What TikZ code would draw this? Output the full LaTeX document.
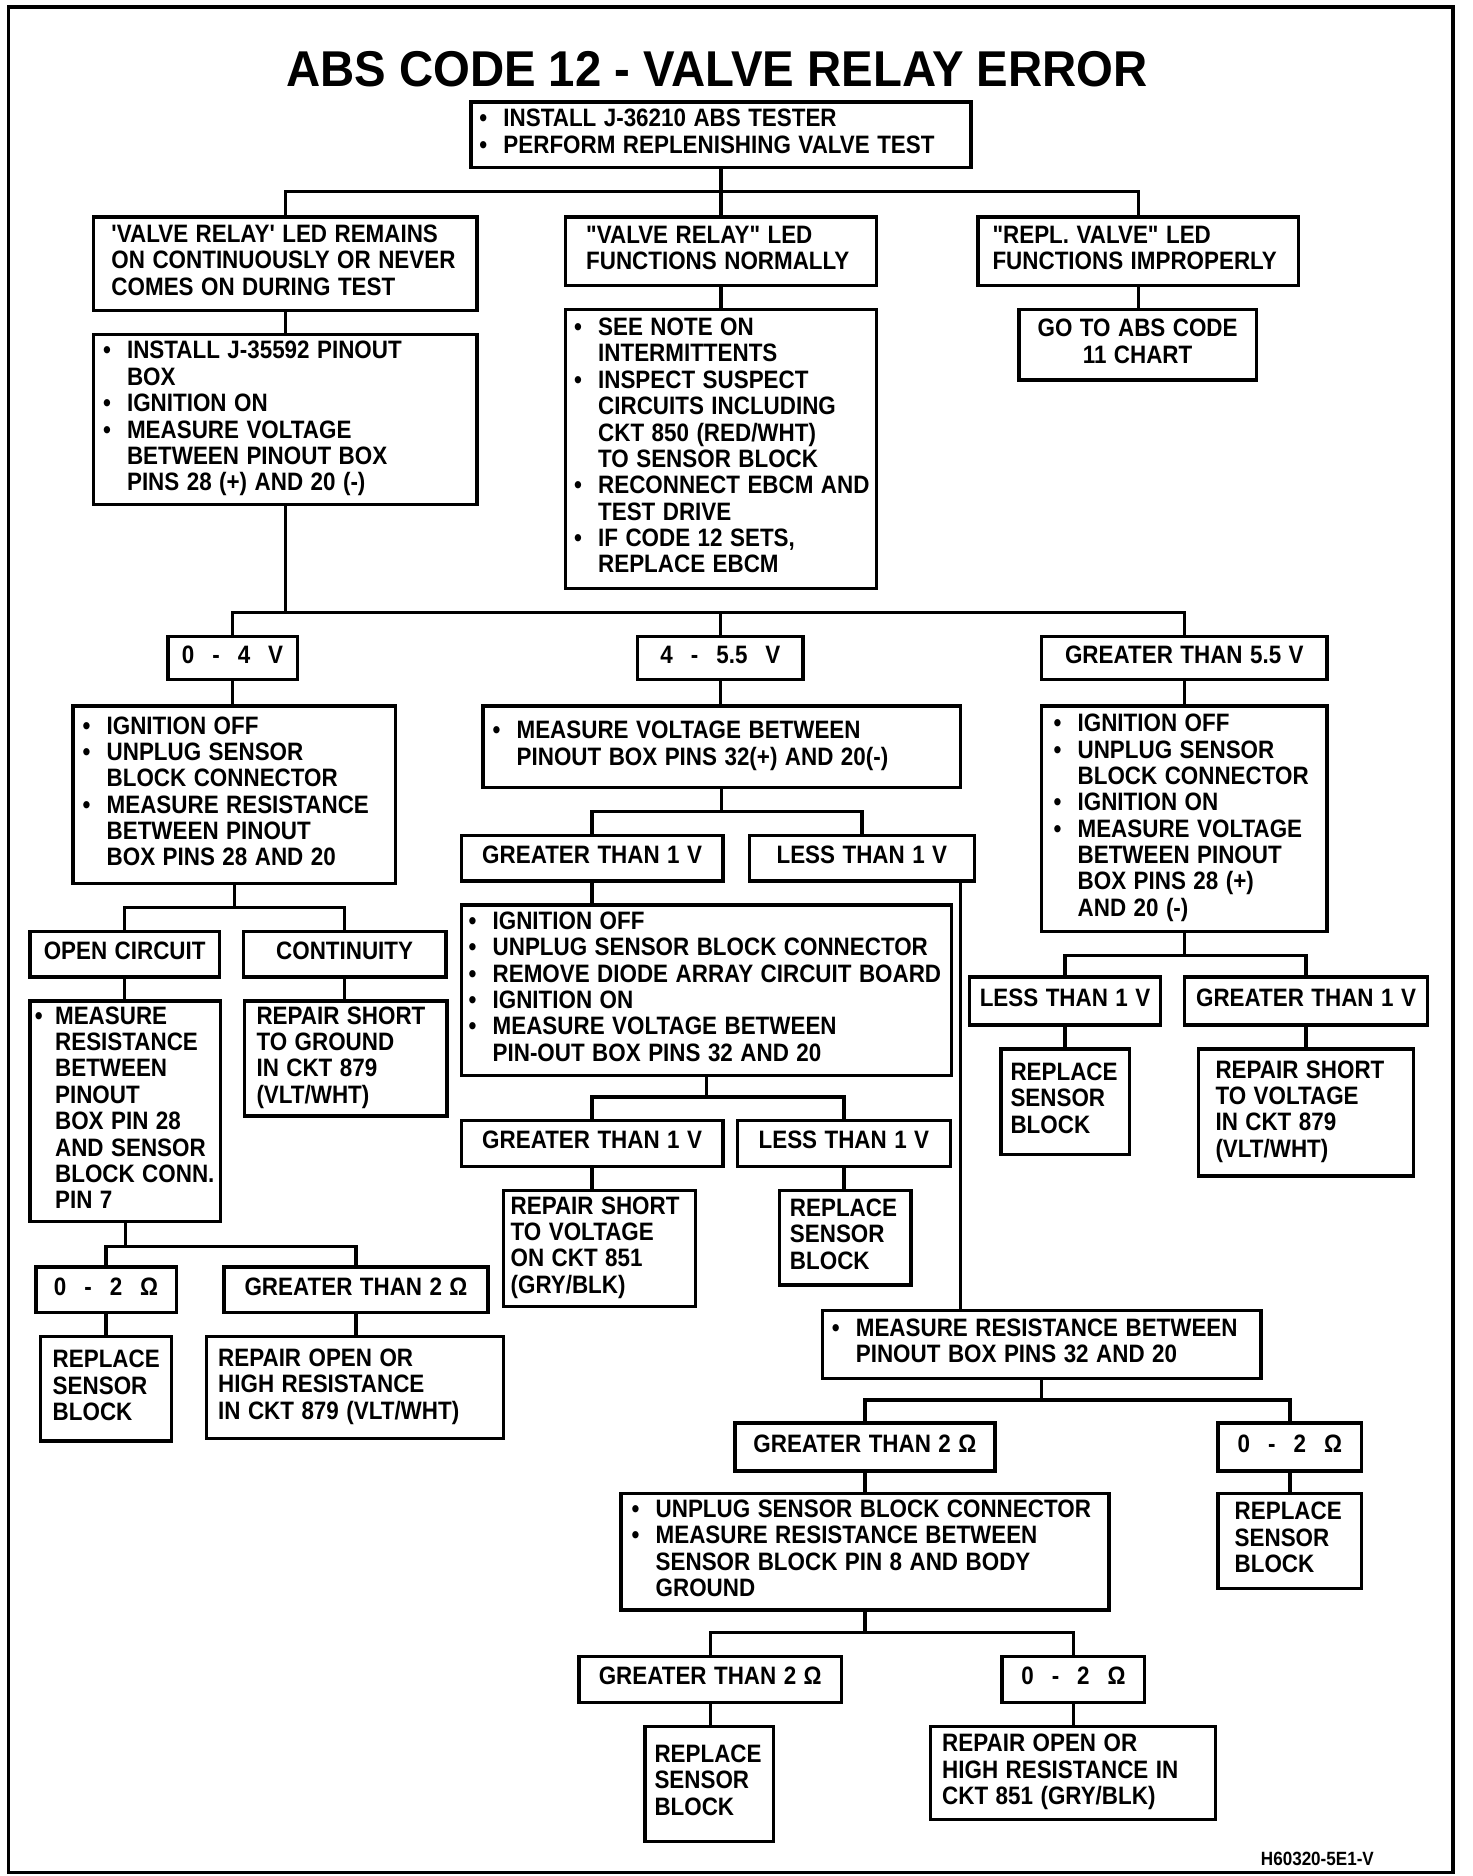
\documentclass[tikz,border=0pt]{standalone}
\usepackage{fontspec}
\newfontfamily\bodyfont[FakeStretch=0.89,WordSpace=1.2]{Liberation Sans}
\newfontfamily\titlefont[FakeStretch=0.94]{Liberation Sans}
\usetikzlibrary{calc}
\newcommand\bul[1][20pt]{\makebox[#1][l]{\textbullet}}
\newcommand\ind[1][20pt]{\hspace*{#1}}
\newcommand\gp{\hspace{15pt}}
\newcommand\bx[8][l]{%
  \pgfmathsetmacro\bxw{#5-#3}%
  \pgfmathsetmacro\bxh{#6-#4}%
  \pgfmathsetmacro\bxt{#5-#3-2*#7}%
  \node[flowbox,minimum width=\bxw pt,minimum height=\bxh pt,inner xsep=#7pt] (#2) at (#3,#4)
    {\makebox[\bxt pt][#1]{\begin{tabular}{@{}#1@{}}#8\end{tabular}}};}
\newcommand\cn[3]{\draw[conn] (#1.south) |- ([yshift=#3pt]#2.north) -- (#2.north);}
\newcommand\cs[2]{\draw[conn] (#1.south) -- (#1.south |- #2.north);}
\begin{document}
\begin{tikzpicture}[x=1pt,y=-1pt,
  flowbox/.style={draw,line width=2.8pt,anchor=north west,outer sep=0pt,inner ysep=0pt,
    font=\bodyfont\bfseries\fontsize{21}{22}\selectfont},
  conn/.style={line width=2.8pt}]
\useasboundingbox (0,0) rectangle (1228,1565);
\fill[white] (0,0) rectangle (1228,1565);
\draw[line width=3pt] (7,6) rectangle (1212,1562);
\node[font=\titlefont\bfseries\fontsize{42}{42}\selectfont] (title) at (598,58) {ABS CODE 12 - VALVE RELAY ERROR};
\node[font=\bodyfont\bfseries\fontsize{16}{16}\selectfont] (code) at (1099,1551) {H60320-5E1-V};
% row 1
\bx{T0}{393}{85}{810}{140}{7}{\bul INSTALL J-36210 ABS TESTER\\\bul PERFORM REPLENISHING VALVE TEST}
\bx{A1}{78}{181}{398}{259}{15}{'VALVE RELAY' LED REMAINS\\ON CONTINUOUSLY OR NEVER\\COMES ON DURING TEST}
\bx{B1}{472}{181}{731}{238}{17}{"VALVE RELAY" LED\\FUNCTIONS NORMALLY}
\bx{C1}{816}{181}{1083}{238}{12}{"REPL. VALVE" LED\\FUNCTIONS IMPROPERLY}
\bx{A2}{78}{279}{398}{421}{8}{\bul INSTALL J-35592 PINOUT\\\ind BOX\\\bul IGNITION ON\\\bul MEASURE VOLTAGE\\\ind BETWEEN PINOUT BOX\\\ind PINS 28 (+) AND 20 (-)}
\bx{B2}{472}{258}{731}{491}{7}{\bul SEE NOTE ON\\\ind INTERMITTENTS\\\bul INSPECT SUSPECT\\\ind CIRCUITS INCLUDING\\\ind CKT 850 (RED/WHT)\\\ind TO SENSOR BLOCK\\\bul RECONNECT EBCM AND\\\ind TEST DRIVE\\\bul IF CODE 12 SETS,\\\ind REPLACE EBCM}
\bx[c]{C2}{850}{258}{1048}{317}{4}{GO TO ABS CODE\\11 CHART}
% voltage
\bx[c]{D1}{140}{531}{248}{567}{2}{0\gp-\gp4\gp V}
\bx[c]{E1}{532}{531}{670}{567}{2}{4\gp-\gp5.5\gp V}
\bx[c]{F1}{869}{531}{1107}{567}{2}{GREATER THAN 5.5 V}
\bx{D2}{61}{589}{330}{737}{8}{\bul IGNITION OFF\\\bul UNPLUG SENSOR\\\ind BLOCK CONNECTOR\\\bul MEASURE RESISTANCE\\\ind BETWEEN PINOUT\\\ind BOX PINS 28 AND 20}
\bx{E2}{403}{589}{801}{657}{8}{\bul MEASURE VOLTAGE BETWEEN\\\ind PINOUT BOX PINS 32(+) AND 20(-)}
\bx{F2}{869}{589}{1107}{777}{10}{\bul IGNITION OFF\\\bul UNPLUG SENSOR\\\ind BLOCK CONNECTOR\\\bul IGNITION ON\\\bul MEASURE VOLTAGE\\\ind BETWEEN PINOUT\\\ind BOX PINS 28 (+)\\\ind AND 20 (-)}
% left branch
\bx[c]{D3}{25}{777}{183}{815}{2}{OPEN CIRCUIT}
\bx[c]{D4}{203}{777}{372}{815}{2}{CONTINUITY}
\bx{D5}{25}{835}{184}{1019}{4}{\bul[17pt]MEASURE\\\ind[17pt]RESISTANCE\\\ind[17pt]BETWEEN\\\ind[17pt]PINOUT\\\ind[17pt]BOX PIN 28\\\ind[17pt]AND SENSOR\\\ind[17pt]BLOCK CONN.\\\ind[17pt]PIN 7}
\bx{D6}{204}{835}{373}{931}{10}{REPAIR SHORT\\TO GROUND\\IN CKT 879\\(VLT/WHT)}
\bx[c]{D7}{30}{1057}{147}{1095}{2}{0\gp-\gp2\gp Ω}
\bx[c]{D8}{187}{1057}{407}{1095}{2}{GREATER THAN 2 Ω}
\bx{D9}{34}{1115}{143}{1202}{10}{REPLACE\\SENSOR\\BLOCK}
\bx{D10}{172}{1115}{420}{1200}{10}{REPAIR OPEN OR\\HIGH RESISTANCE\\IN CKT 879 (VLT/WHT)}
% middle branch
\bx[c]{E3}{385}{697}{603}{735}{2}{GREATER THAN 1 V}
\bx[c]{E4}{625}{697}{813}{735}{2}{LESS THAN 1 V}
\bx{E5}{385}{755}{794}{897}{6}{\bul IGNITION OFF\\\bul UNPLUG SENSOR BLOCK CONNECTOR\\\bul REMOVE DIODE ARRAY CIRCUIT BOARD\\\bul IGNITION ON\\\bul MEASURE VOLTAGE BETWEEN\\\ind PIN-OUT BOX PINS 32 AND 20}
\bx[c]{E6}{385}{935}{603}{973}{2}{GREATER THAN 1 V}
\bx[c]{E7}{615}{935}{793}{973}{2}{LESS THAN 1 V}
\bx{E9}{420}{993}{580}{1090}{6}{REPAIR SHORT\\TO VOLTAGE\\ON CKT 851\\(GRY/BLK)}
\bx{E10}{650}{993}{760}{1072}{9}{REPLACE\\SENSOR\\BLOCK}
\bx{E8}{686}{1093}{1052}{1150}{8}{\bul MEASURE RESISTANCE BETWEEN\\\ind PINOUT BOX PINS 32 AND 20}
\bx[c]{G1}{613}{1187}{830}{1227}{2}{GREATER THAN 2 Ω}
\bx[c]{G2}{1016}{1187}{1136}{1227}{2}{0\gp-\gp2\gp Ω}
\bx{G3}{518}{1246}{925}{1343}{9}{\bul UNPLUG SENSOR BLOCK CONNECTOR\\\bul MEASURE RESISTANCE BETWEEN\\\ind SENSOR BLOCK PIN 8 AND BODY\\\ind GROUND}
\bx{G4}{1016}{1246}{1136}{1325}{14}{REPLACE\\SENSOR\\BLOCK}
\bx[c]{G5}{483}{1382}{702}{1420}{2}{GREATER THAN 2 Ω}
\bx[c]{G6}{836}{1382}{955}{1420}{2}{0\gp-\gp2\gp Ω}
\bx{G7}{538}{1440}{645}{1536}{8}{REPLACE\\SENSOR\\BLOCK}
\bx{G8}{776}{1440}{1014}{1518}{10}{REPAIR OPEN OR\\HIGH RESISTANCE IN\\CKT 851 (GRY/BLK)}
% right branch
\bx[c]{F3}{809}{815}{968}{855}{2}{LESS THAN 1 V}
\bx[c]{F4}{988}{815}{1191}{855}{2}{GREATER THAN 1 V}
\bx{F5}{835}{875}{942}{963}{8}{REPLACE\\SENSOR\\BLOCK}
\bx{F6}{1000}{875}{1179}{981}{14}{REPAIR SHORT\\TO VOLTAGE\\IN CKT 879\\(VLT/WHT)}
% connectors
\cn{T0}{A1}{21} \cn{T0}{B1}{21} \cn{T0}{C1}{21}
\cs{A1}{A2} \cs{B1}{B2} \cs{C1}{C2}
\cn{A2}{D1}{20} \cn{A2}{E1}{20} \cn{A2}{F1}{20}
\cs{D1}{D2} \cs{E1}{E2} \cs{F1}{F2}
\cn{D2}{D3}{20} \cn{D2}{D4}{20}
\cs{D3}{D5} \cs{D4}{D6}
\cn{D5}{D7}{17} \cn{D5}{D8}{17}
\cs{D7}{D9} \cs{D8}{D10}
\cn{E2}{E3}{20} \cn{E2}{E4}{20}
\cs{E3}{E5}
\cn{E5}{E6}{20} \cn{E5}{E7}{20}
\cs{E6}{E9} \cs{E7}{E10}
\draw[conn] ([xshift=-12pt]E4.south east) -- ([xshift=-12pt]E4.south east |- E8.north);
\cn{E8}{G1}{19} \cn{E8}{G2}{19}
\cs{G1}{G3} \cs{G2}{G4}
\cn{G3}{G5}{20} \cn{G3}{G6}{20}
\cs{G5}{G7} \cs{G6}{G8}
\cn{F2}{F3}{18} \cn{F2}{F4}{18}
\cs{F3}{F5} \cs{F4}{F6}
\end{tikzpicture}
\end{document}
